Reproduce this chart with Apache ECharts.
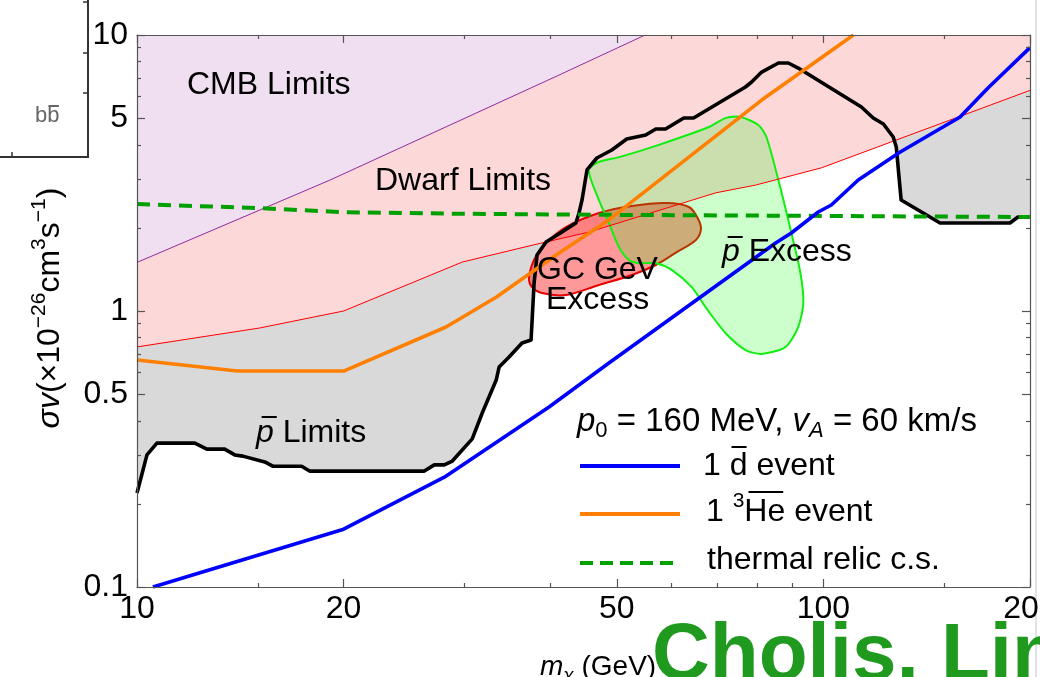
<!DOCTYPE html>
<html>
<head>
<meta charset="utf-8">
<script src="https://cdn.jsdelivr.net/npm/echarts@6.0.0/dist/echarts.min.js"></script>
<style>
  html, body { margin: 0; padding: 0; background: #fff; }
  #chart { width: 1040px; height: 677px; }
</style>
</head>
<body>
<div id="chart"></div>
<script>
// ---- tick values ----
const xMajorTicks = [10, 20, 50, 100, 200];
const xMinorTicks = [15, 30, 40, 60, 70, 80, 90, 150];
const yMajorTicks = [0.1, 0.5, 1, 5, 10];
const yMinorTicks = [0.2, 0.3, 0.4, 0.6, 0.7, 0.8, 0.9, 2, 3, 4, 6, 7, 8, 9];

// ---- limit curves: [m_chi (GeV), sigma v (1e-26 cm^3/s)] ----
const cmbLimit = [[10, 1.5], [19.1, 2.98], [41.2, 7.16], [55, 10]];
const dwarfLimit = [[10, 0.741], [15.1, 0.868], [20, 1.0], [29.8, 1.505], [39.4, 1.778], [45.5, 1.93],
  [69.7, 2.68], [79.7, 2.86], [99.3, 3.3], [200, 6.3]];
const pbarLimit = [[10, 0.219], [10.34, 0.301], [10.69, 0.332], [12.14, 0.332], [12.64, 0.316], [13.42, 0.316],
  [13.88, 0.301], [14.26, 0.298], [15.35, 0.284], [15.77, 0.274], [17.37, 0.274], [17.84, 0.263],
  [26.22, 0.263], [27.11, 0.277], [28.04, 0.277], [28.8, 0.286], [30.79, 0.344], [31.84, 0.427],
  [33.37, 0.562], [33.7, 0.627], [34.84, 0.681], [36.39, 0.766], [37.51, 0.785], [37.89, 1.263],
  [38.27, 1.596], [39.44, 1.778], [41.6, 1.933], [43.6, 2.084], [44.05, 2.265], [44.5, 2.524],
  [45.25, 3.243], [46.77, 3.584], [49.18, 3.831], [51.7, 4.2], [55.1, 4.342], [57.0, 4.564],
  [58.9, 4.564], [62.6, 5.003], [64.7, 5.003], [77.0, 6.48], [78.6, 6.756], [81.3, 7.34],
  [86.0, 7.916], [88.9, 7.916], [91.9, 7.59], [113.6, 5.483], [118.2, 5.003], [122.3, 4.759],
  [126.4, 4.27], [127.7, 3.93], [129.8, 2.524], [137.4, 2.322], [147.9, 2.084], [187.0, 2.084],
  [192.1, 2.19], [200, 2.19]];
const thermalRelic = [[10, 2.44], [15, 2.36], [20, 2.28], [30, 2.25], [50, 2.23], [100, 2.21], [200, 2.19]];

// ---- one-event sensitivity curves ----
const heEvent = [[10, 0.664], [14, 0.606], [20, 0.606], [28.2, 0.875], [33.4, 1.124], [41.2, 1.623],
  [48.2, 2.1], [81.3, 5.81], [110.6, 10]];
const dbarEvent = [[10.55, 0.1], [20, 0.162], [28.04, 0.25], [39.84, 0.449], [48.7, 0.648], [85.2, 1.763],
  [89.8, 1.917], [98.3, 2.284], [102.7, 2.422], [112.4, 2.983], [129.4, 3.768], [158.2, 5.045],
  [173.7, 6.43], [200, 9.0]];

// ---- signal regions (closed contours) ----
const gcExcess = [[37.26, 1.328], [38.0, 1.556], [39.44, 1.763], [42.17, 2.015], [47.1, 2.265], [52.6, 2.401],
  [58.9, 2.462], [63.7, 2.381], [65.8, 2.137], [66.3, 1.966], [65.2, 1.808], [60.9, 1.623], [57.0, 1.468],
  [52.6, 1.35], [47.1, 1.243], [42.17, 1.143], [38.9, 1.162], [37.6, 1.222]];
const pbarExcess = [[45.5, 3.24], [47.1, 3.47], [50.4, 3.61], [57.6, 4.0], [68.1, 4.64], [72.0, 5.0],
  [75.7, 5.05], [80.4, 4.72], [82.6, 4.27], [86.0, 2.98], [89.8, 1.92], [92.6, 1.37], [93.5, 1.07],
  [91.9, 0.875], [88.1, 0.741], [81.3, 0.699], [77.0, 0.722], [72.0, 0.832], [67.4, 1.03], [64.3, 1.22],
  [60.1, 1.41], [57.0, 1.49], [53.8, 1.49], [52.1, 1.53], [50.4, 1.7], [48.7, 2.08], [47.1, 2.52]];

const X_MIN = 10, X_MAX = 200, Y_MIN = 0.1, Y_MAX = 10;
const FONT = 'Liberation Sans';
const FRAME = '#555';

// ---------- helpers ----------
const mctx = document.createElement('canvas').getContext('2d');

// Lay out a line of text pieces (sub/superscripts, italics, overbars) left to right.
function textRuns(runs, base, color, x0, cy) {
  const els = [];
  let x = x0;
  runs.forEach(r => {
    const size = r.size || base;
    const fstyle = r.italic ? 'italic' : 'normal';
    const fweight = r.bold ? 'bold' : 'normal';
    mctx.font = fstyle + ' ' + fweight + ' ' + size + 'px ' + FONT;
    const w = mctx.measureText(r.t).width;
    els.push({
      type: 'text', x: x, y: cy + (r.dy || 0), silent: true, z: 100,
      style: {
        text: r.t, fontSize: size, fontFamily: FONT, fontStyle: fstyle, fontWeight: fweight,
        fill: color, align: 'left', verticalAlign: 'middle', textAlign: 'left', textVerticalAlign: 'middle'
      }
    });
    if (r.over !== undefined) {
      const skew = r.italic ? size * 0.12 : 0;
      els.push({
        type: 'line', silent: true, z: 100,
        shape: { x1: x + w * 0.1 + skew, y1: cy + r.over, x2: x + w * 0.95 + skew, y2: cy + r.over },
        style: { stroke: color, lineWidth: 2 }
      });
    }
    x += w;
  });
  return { els: els, width: x - x0 };
}

function polygonSeries(name, points, closeTo, fill, stroke, lineWidth, smooth) {
  return {
    name: name, type: 'custom', coordinateSystem: 'cartesian2d', xAxisIndex: 0, yAxisIndex: 0,
    data: points, silent: true, clip: true,
    renderItem: function (params, api) {
      if (params.dataIndex !== 0) return null;
      const pts = points.concat(closeTo).map(p => api.coord(p));
      return {
        type: 'polygon',
        shape: { points: pts, smooth: smooth },
        style: { fill: fill, stroke: stroke || 'none', lineWidth: lineWidth || 0 }
      };
    }
  };
}

function lineSeries(name, data, color, width, dash) {
  return {
    name: name, type: 'line', data: data, xAxisIndex: 0, yAxisIndex: 0,
    symbol: 'none', silent: true, clip: true,
    lineStyle: { color: color, width: width, type: dash || 'solid', join: 'round', cap: 'butt' }
  };
}

const lg = v => Math.log10(v);

function tickAxisX(position, values, len, withLabels, withLine) {
  return {
    type: 'value', position: position, min: lg(X_MIN), max: lg(X_MAX), z: 10,
    axisLine: { show: withLine, onZero: false, lineStyle: { color: FRAME, width: 1.2 } },
    axisTick: { show: true, inside: true, length: len, customValues: values.map(lg),
      lineStyle: { color: FRAME, width: 1.2 } },
    axisLabel: withLabels ? {
      show: true, customValues: values.map(lg), margin: 6, hideOverlap: false,
      fontSize: 32, fontFamily: FONT, color: '#000',
      formatter: v => String(Math.round(Math.pow(10, v)))
    } : { show: false },
    splitLine: { show: false }
  };
}

function tickAxisY(position, values, len, withLabels, withLine) {
  return {
    type: 'value', position: position, min: lg(Y_MIN), max: lg(Y_MAX), z: 10,
    axisLine: { show: withLine, onZero: false, lineStyle: { color: FRAME, width: 1.2 } },
    axisTick: { show: true, inside: true, length: len, customValues: values.map(lg),
      lineStyle: { color: FRAME, width: 1.2 } },
    axisLabel: withLabels ? {
      show: true, customValues: values.map(lg), margin: 9, hideOverlap: false,
      fontSize: 32, fontFamily: FONT, color: '#000',
      formatter: v => String(Number(Math.pow(10, v).toPrecision(1)))
    } : { show: false },
    splitLine: { show: false }
  };
}

// ---------- text annotations ----------
const graphics = [];
function addText(runs, size, color, x, cy) {
  textRuns(runs, size, color, x, cy).els.forEach(e => graphics.push(e));
}

addText([{ t: 'CMB Limits' }], 32, '#000', 187, 85);
addText([{ t: 'Dwarf Limits' }], 32, '#000', 375, 181);
addText([{ t: 'GC GeV' }], 32, '#000', 537, 270);
addText([{ t: 'Excess' }], 32, '#000', 546, 300);
addText([{ t: 'p', italic: true, over: -15 }, { t: ' Excess' }], 32, '#000', 722, 252);
addText([{ t: 'p', italic: true, over: -16 }, { t: ' Limits' }], 32, '#000', 256, 433);

// legend block
addText([{ t: 'p', italic: true }, { t: '0', size: 22, dy: 9 }, { t: ' = 160 MeV, ' },
  { t: 'v', italic: true }, { t: 'A', italic: true, size: 22, dy: 9 }, { t: ' = 60 km/s' }], 33, '#000', 577, 422);
addText([{ t: '1 ' }, { t: 'd', over: -19 }, { t: ' event' }], 32, '#000', 703, 466);
addText([{ t: '1 ' }, { t: '3', size: 21, dy: -11 }, { t: 'He', over: -20 }, { t: ' event' }], 32, '#000', 706, 512);
addText([{ t: 'thermal relic c.s.' }], 32, '#000', 707, 560);
graphics.push({ type: 'line', silent: true, z: 100, shape: { x1: 580, y1: 466, x2: 680, y2: 466 },
  style: { stroke: '#0000ff', lineWidth: 4 } });
graphics.push({ type: 'line', silent: true, z: 100, shape: { x1: 580, y1: 514, x2: 680, y2: 514 },
  style: { stroke: '#ff8000', lineWidth: 4 } });
graphics.push({ type: 'line', silent: true, z: 100, shape: { x1: 580, y1: 563, x2: 680, y2: 563 },
  style: { stroke: '#00a000', lineWidth: 4, lineDash: [13, 7] } });

// axis titles
(function () {
  const runs = [{ t: 'σv', italic: true }, { t: '(×10' }, { t: '−26', size: 21, dy: -11 }, { t: 'cm' },
    { t: '3', size: 21, dy: -11 }, { t: 's' }, { t: '−1', size: 21, dy: -11 }, { t: ')' }];
  const w = textRuns(runs, 32, '#000', 0, 0).width;
  graphics.push({ type: 'group', x: 50, y: 308, rotation: Math.PI / 2,
    children: textRuns(runs, 32, '#000', -w / 2, 0).els });
})();
addText([{ t: 'm', italic: true }, { t: 'χ', italic: true, size: 19, dy: 9 }, { t: ' (GeV)' }], 28, '#000', 540, 667);
addText([{ t: 'Cholis, Lin', bold: true }], 80, '#1f9a1f', 652, 657);

// neighbouring panel edge, upper left
graphics.push({ type: 'line', silent: true, shape: { x1: 88, y1: 0, x2: 88, y2: 157 }, style: { stroke: '#333', lineWidth: 2 } });
graphics.push({ type: 'line', silent: true, shape: { x1: 0, y1: 157, x2: 89, y2: 157 }, style: { stroke: '#333', lineWidth: 2 } });
[2, 53, 93].forEach(y => graphics.push({ type: 'line', silent: true, shape: { x1: 83, y1: y, x2: 88, y2: y }, style: { stroke: '#333', lineWidth: 1.5 } }));
graphics.push({ type: 'line', silent: true, shape: { x1: 12, y1: 152, x2: 12, y2: 157 }, style: { stroke: '#333', lineWidth: 1.5 } });
addText([{ t: 'b' }, { t: 'b', over: -10 }], 22, '#666', 35, 116);
// neighbouring panel edge, right
graphics.push({ type: 'line', silent: true, shape: { x1: 1036, y1: 0, x2: 1036, y2: 677 }, style: { stroke: '#e2e2e2', lineWidth: 2 } });

// ---------- chart ----------
const chart = echarts.init(document.getElementById('chart'), null, { renderer: 'canvas' });
const TOP = [[X_MAX, Y_MAX], [X_MIN, Y_MAX]];

chart.setOption({
  animation: false,
  backgroundColor: '#fff',
  grid: { left: 137, right: 10, top: 35, bottom: 90, containLabel: false, outerBoundsMode: 'none' },
  xAxis: [
    { type: 'log', logBase: 10, min: X_MIN, max: X_MAX, show: false },
    tickAxisX('bottom', xMajorTicks, 8, true, true),
    tickAxisX('bottom', xMinorTicks, 4, false, false),
    tickAxisX('top', xMajorTicks, 8, false, true),
    tickAxisX('top', xMinorTicks, 4, false, false)
  ],
  yAxis: [
    { type: 'log', logBase: 10, min: Y_MIN, max: Y_MAX, show: false },
    tickAxisY('left', yMajorTicks, 8, true, true),
    tickAxisY('left', yMinorTicks, 4, false, false),
    tickAxisY('right', yMajorTicks, 8, false, true),
    tickAxisY('right', yMinorTicks, 4, false, false)
  ],
  series: [
    polygonSeries('pbar limits', pbarLimit, TOP, '#d9d9d9', null, 0, 0),
    polygonSeries('dwarf limits', dwarfLimit, TOP, '#fdd8d9', null, 0, 0),
    polygonSeries('CMB limits', cmbLimit, [[X_MIN, Y_MAX]], '#efdff0', null, 0, 0),
    lineSeries('dwarf', dwarfLimit, '#ff0000', 1),
    lineSeries('CMB', cmbLimit, '#8e2c9e', 1),
    lineSeries('pbar', pbarLimit, '#000000', 3.6),
    lineSeries('thermal relic c.s.', thermalRelic, '#00a000', 4, [13, 8]),
    polygonSeries('GC GeV excess', gcExcess, [], 'rgba(255,0,0,0.4)', '#e80000', 2, 0.35),
    polygonSeries('pbar excess', pbarExcess, [], 'rgba(0,255,0,0.2)', '#11ee11', 2, 0.25),
    lineSeries('1 3He event', heEvent, '#ff8000', 3.6),
    lineSeries('1 dbar event', dbarEvent, '#0000ff', 3.6)
  ],
  graphic: { elements: graphics }
});
</script>
</body>
</html>
